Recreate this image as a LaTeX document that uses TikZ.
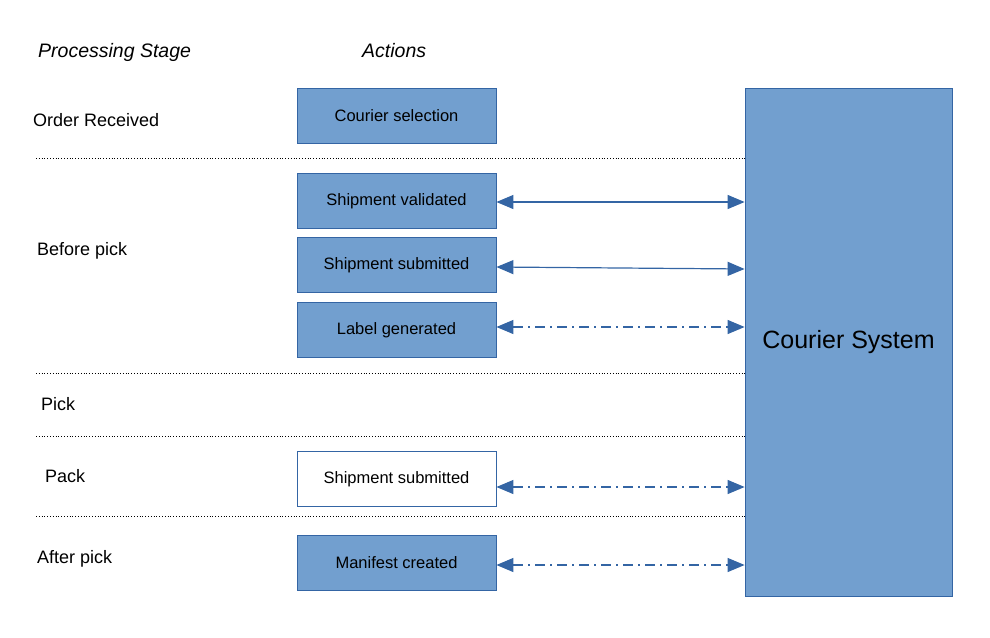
\documentclass[tikz,border=0pt]{standalone}
\usepackage{fontspec}
\setmainfont{Liberation Sans}
\usetikzlibrary{arrows.meta}
\definecolor{boxblue}{RGB}{114,159,207}
\definecolor{linkblue}{RGB}{52,101,164}
\tikzset{
  actbox/.style={draw=linkblue, fill=boxblue, line width=0.8pt, minimum width=199pt,
    minimum height=55pt, inner sep=0pt, font=\fontsize{16.5}{18}\selectfont},
  stagelbl/.style={anchor=base west, inner sep=0pt, font=\fontsize{18}{20}\selectfont},
  hdr/.style={anchor=base west, inner sep=0pt, font=\fontsize{19.5}{22}\selectfont\itshape},
  sep/.style={dotted, line width=0.8pt},
  link/.style={linkblue, line width=1.2pt, {Triangle[length=17pt,width=14pt]}-{Triangle[length=17pt,width=14pt]}},
  linkdd/.style={link, dash pattern=on 10pt off 5pt on 2pt off 5pt}
}
\begin{document}
\begin{tikzpicture}[x=1pt, y=-1pt]
  \useasboundingbox (0,0) rectangle (990,637);
  \node[hdr] (hstage) at (38,57) {Processing Stage};
  \node[hdr] (hact) at (362,57) {Actions};
  \node[stagelbl] (order) at (33,126) {Order Received};
  \node[stagelbl] (before) at (37,255) {Before pick};
  \node[stagelbl] (pick) at (41,410) {Pick};
  \node[stagelbl] (pack) at (45,482) {Pack};
  \node[stagelbl] (after) at (37,563) {After pick};
  \node[actbox] (csel) at (396.5,116) {Courier selection};
  \node[actbox] (sval) at (396.5,201) {Shipment validated};
  \node[actbox] (ssub) at (396.5,265) {Shipment submitted};
  \node[actbox] (lgen) at (396.5,330) {Label generated};
  \node[actbox, fill=white] (ssub2) at (396.5,479) {Shipment submitted};
  \node[actbox] (mcre) at (396.5,563) {Manifest created};
  \node[actbox, minimum width=207pt, minimum height=508pt,
    font=\fontsize{25}{28}\selectfont] (cs) at (848.5,342) {Courier System};
  \begin{scope}[sep]
    \coordinate (s1) at (36,158);
    \coordinate (s2) at (36,373);
    \coordinate (s3) at (36,436);
    \coordinate (s4) at (36,516);
    \draw (s1) -- (s1 -| cs.west);
    \draw (s2) -- (s2 -| cs.west);
    \draw (s3) -- (s3 -| cs.west);
    \draw (s4) -- (s4 -| cs.west);
  \end{scope}
  \draw[link] ([yshift=-1pt]sval.east) -- ([yshift=-1pt]sval.east -| cs.west);
  \draw[link] ([yshift=-2pt]ssub.east) -- ([yshift=-4pt]ssub.east -| cs.west);
  \draw[linkdd] ([yshift=3pt]lgen.east) -- ([yshift=3pt]lgen.east -| cs.west);
  \draw[linkdd] ([yshift=-8pt]ssub2.east) -- ([yshift=-8pt]ssub2.east -| cs.west);
  \draw[linkdd] ([yshift=-2pt]mcre.east) -- ([yshift=-2pt]mcre.east -| cs.west);
\end{tikzpicture}
\end{document}
